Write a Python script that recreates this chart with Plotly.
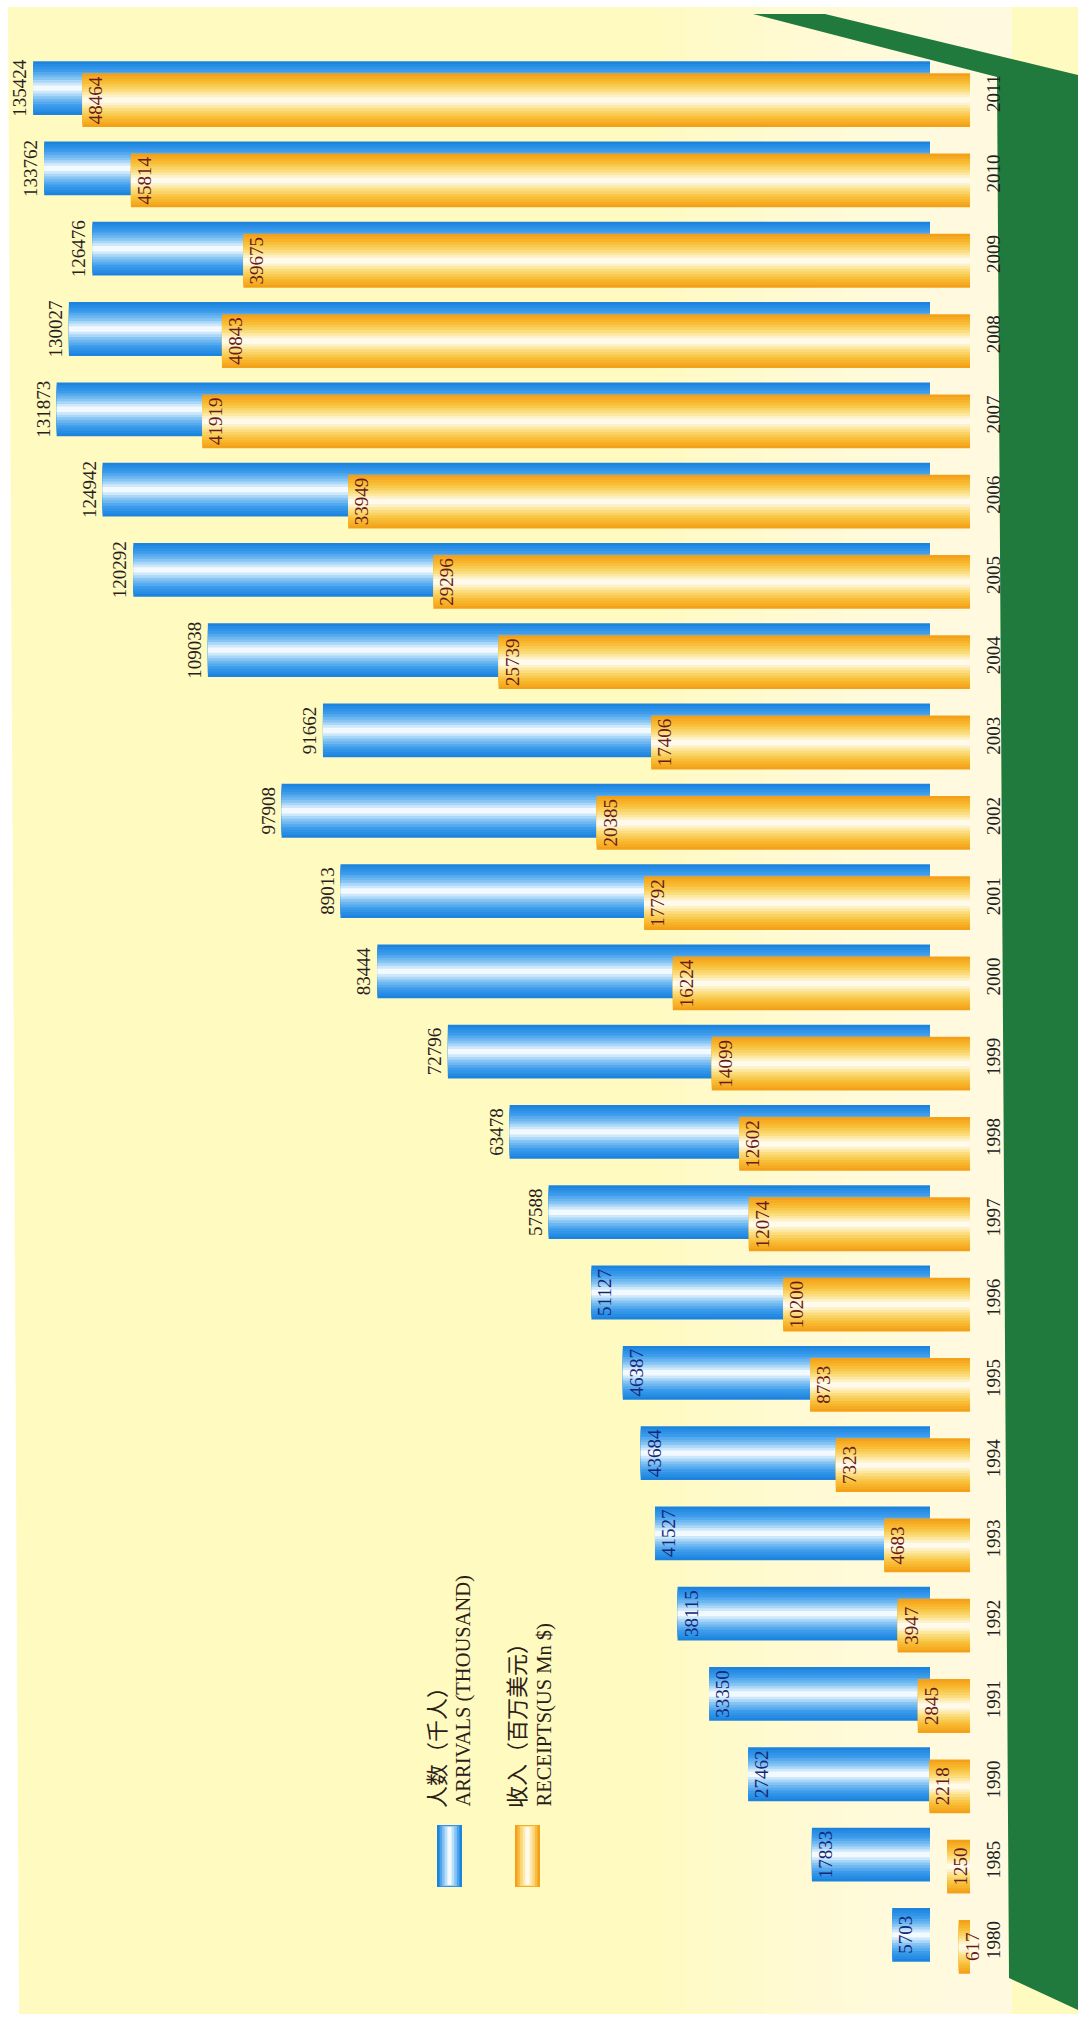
import plotly.graph_objects as go

# ---------------- data ----------------
years = ['1980', '1985', '1990', '1991', '1992', '1993', '1994', '1995', '1996',
         '1997', '1998', '1999', '2000', '2001', '2002', '2003', '2004', '2005',
         '2006', '2007', '2008', '2009', '2010', '2011']
arrivals = [5703, 17833, 27462, 33350, 38115, 41527, 43684, 46387, 51127,
            57588, 63478, 72796, 83444, 89013, 97908, 91662, 109038, 120292,
            124942, 131873, 130027, 126476, 133762, 135424]
receipts = [617, 1250, 2218, 2845, 3947, 4683, 7323, 8733, 10200,
            12074, 12602, 14099, 16224, 17792, 20385, 17406, 25739, 29296,
            33949, 41919, 40843, 39675, 45814, 48464]
arrivals_label_pos = ['inside'] * 9 + ['outside'] * 15

legend_cn = ['人数（千人）', '收入（百万美元）']
legend_en = ['ARRIVALS (THOUSAND)', 'RECEIPTS(US Mn $)']

# ---------------- geometry / style helpers ----------------
W, H = 1078, 2019
def px(x):
    return x / W
def py(y):
    return 1 - y / H

SERIF = 'Liberation Serif'
CJK = 'Noto Sans CJK SC'

BAR_W = 0.67
BLUE_C = 0.10
ORANGE_C = -0.05

def mix(c1, c2, t):
    a = [int(c1[i:i + 2], 16) for i in (1, 3, 5)]
    b = [int(c2[i:i + 2], 16) for i in (1, 3, 5)]
    return '#' + ''.join(f'{round(a[k] + (b[k] - a[k]) * t):02x}' for k in range(3))

def gradient(stops, n):
    # stops: list of colours from edge to centre
    out = []
    for i in range(n):
        t = i / (n - 1) * (len(stops) - 1)
        k = min(int(t), len(stops) - 2)
        out.append(mix(stops[k], stops[k + 1], t - k))
    return out

N = 10
fracs = [1.0 - i * 0.9 / (N - 1) for i in range(N)]
blue_cols = gradient(['#1C84DF', '#3C9CEB', '#86C4F3', '#F2FAFF'], N)
orange_cols = gradient(['#F4A11A', '#F8BE36', '#FBDD7E', '#FFFBEC'], N)

fig = go.Figure()

for frac, col in zip(fracs, blue_cols):
    w = BAR_W * frac
    fig.add_trace(go.Bar(
        y=years, x=arrivals, orientation='h', xaxis='x', yaxis='y',
        width=w, offset=BLUE_C - w / 2, marker=dict(color=col, line=dict(width=0)),
        hoverinfo='skip'))

fig.add_trace(go.Bar(
    y=years, x=arrivals, orientation='h', xaxis='x', yaxis='y',
    width=BAR_W, offset=BLUE_C - BAR_W / 2,
    marker=dict(color='rgba(0,0,0,0)', line=dict(width=0)),
    text=[str(v) for v in arrivals], textposition=arrivals_label_pos,
    insidetextanchor='end', textangle=-90, constraintext='none', cliponaxis=False,
    insidetextfont=dict(family=SERIF, size=19, color='#16277a'),
    outsidetextfont=dict(family=SERIF, size=19, color='#2a1f1f'),
    hoverinfo='skip'))

for frac, col in zip(fracs, orange_cols):
    w = BAR_W * frac
    fig.add_trace(go.Bar(
        y=years, x=receipts, orientation='h', xaxis='x2', yaxis='y',
        width=w, offset=ORANGE_C - w / 2, marker=dict(color=col, line=dict(width=0)),
        hoverinfo='skip'))

fig.add_trace(go.Bar(
    y=years, x=receipts, orientation='h', xaxis='x2', yaxis='y',
    width=BAR_W, offset=ORANGE_C - BAR_W / 2,
    marker=dict(color='rgba(0,0,0,0)', line=dict(width=0)),
    text=[str(v) for v in receipts], textposition='inside',
    insidetextanchor='end', textangle=-90, constraintext='none', cliponaxis=False,
    insidetextfont=dict(family=SERIF, size=19, color='#6a1a1a'),
    hoverinfo='skip'))

# ---------------- background shapes ----------------
shapes = []
# yellow page
shapes.append(dict(type='path', xref='paper', yref='paper', layer='below',
                   path=f'M {px(8)},{py(7)} L {px(W)},{py(7)} L {px(W)},{py(2014)} L {px(19)},{py(2014)} Z',
                   fillcolor='#FFFAC0', line=dict(width=0)))
# soft pale glow towards the floor
for i in range(12):
    x0 = 660 + i * 26
    shapes.append(dict(type='rect', xref='paper', yref='paper', layer='below',
                       x0=px(x0), x1=px(1012), y0=py(7), y1=py(2014),
                       fillcolor='white', opacity=0.065, line=dict(width=0)))
# green floor
shapes.append(dict(type='path', xref='paper', yref='paper', layer='below',
                   path=(f'M {px(753)},{py(14)} L {px(825)},{py(14)} L {px(W)},{py(75)} '
                         f'L {px(W)},{py(2010)} L {px(1009)},{py(1978)} L {px(997)},{py(77)} Z'),
                   fillcolor='#207A3D', line=dict(width=0)))
# legend swatches
for x0, stops in [(437, ['#1C84DF', '#86C4F3', '#F2FAFF']), (515, ['#F4A11A', '#FBD877', '#FFFBEC'])]:
    cols = gradient(stops, 5)
    for j, col in enumerate(cols):
        inset = j * 2.6
        shapes.append(dict(type='rect', xref='paper', yref='paper',
                           x0=px(x0 + inset), x1=px(x0 + 25 - inset),
                           y0=py(1887 - j * 0.5), y1=py(1825 + j * 0.5),
                           fillcolor=col, line=dict(width=0)))

annotations = []
for i, (x_cn, x_en) in enumerate([(435, 463), (515, 544)]):
    annotations.append(dict(text=legend_cn[i], x=px(x_cn), y=py(1810), xref='paper', yref='paper',
                            xanchor='center', yanchor='bottom', textangle=-90, showarrow=False,
                            font=dict(family=CJK, size=22, color='#2b2018')))
    annotations.append(dict(text=legend_en[i], x=px(x_en), y=py(1809), xref='paper', yref='paper',
                            xanchor='center', yanchor='bottom', textangle=-90, showarrow=False,
                            font=dict(family=SERIF, size=20.5, color='#2b2018')))

fig.update_layout(
    width=W, height=H, margin=dict(l=0, r=0, t=0, b=0),
    paper_bgcolor='white', plot_bgcolor='rgba(0,0,0,0)',
    barmode='overlay', showlegend=False, hovermode=False,
    xaxis=dict(domain=[0, 975 / W], range=[930 * 151, -45 * 151], visible=False, fixedrange=True),
    xaxis2=dict(overlaying='x', anchor='y', range=[970 * 54.6, -5 * 54.6], visible=False, fixedrange=True),
    yaxis=dict(domain=[1 - 1983 / H, 1 - 56 / H], range=[-0.5, 23.5], type='category',
               categoryorder='array', categoryarray=years,
               side='right', anchor='x', tickangle=-90, ticks='', showgrid=False,
               zeroline=False, showline=False, ticklabelstandoff=5,
               tickfont=dict(family=SERIF, size=19, color='#222222'), fixedrange=True),
    shapes=shapes, annotations=annotations,
)

fig.write_html('out.html')
